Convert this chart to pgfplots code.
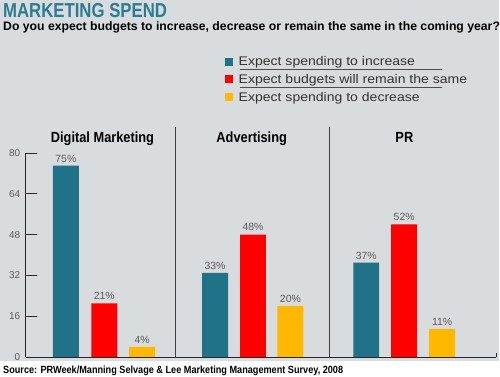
\documentclass[border=0pt]{standalone}
\usepackage{pgfplots}
\pgfplotsset{compat=1.18}
\usepackage{fontspec}
\setmainfont{Liberation Sans}
\newfontfamily\cond{Liberation Sans}[FakeStretch=0.83]
\newfontfamily\condb{Liberation Sans}[FakeStretch=0.87]
\newfontfamily\condc{Liberation Sans}[FakeStretch=0.875]
\newfontfamily\wide{Liberation Sans}[FakeStretch=1.12]
\definecolor{bg}{HTML}{D9DCDE}
\definecolor{teal}{HTML}{1F7288}
\definecolor{titleteal}{HTML}{2A7C92}
\definecolor{myred}{HTML}{FF0000}
\definecolor{myyellow}{HTML}{FFB800}
\definecolor{lbl}{HTML}{5A5A5A}
\begin{document}
\begin{tikzpicture}
\fill[bg] (0,0) rectangle (500bp,377bp);
\fill[white] (0,0) rectangle (500bp,15bp);
\node[anchor=base west,inner sep=0pt,text=titleteal] at (3bp,359.7bp) {\cond\fontsize{20.3}{20}\selectfont\bfseries MARKETING SPEND};
\node[anchor=base west,inner sep=0pt,text=black] at (3bp,346.5bp) {\fontsize{12.3}{13}\selectfont\bfseries Do you expect budgets to increase, decrease or remain the same in the coming year?};
\node[anchor=base west,inner sep=0pt,text=black] at (3bp,3bp) {\condc\fontsize{10.5}{11}\selectfont\bfseries Source: PRWeek/Manning Selvage \& Lee Marketing Management Survey, 2008};
\draw[black!70,line width=0.5pt] (240bp,307.2bp) -- (443bp,307.2bp);
\draw[black!70,line width=0.5pt] (240bp,289.5bp) -- (443bp,289.5bp);
\begin{axis}[
 anchor=origin, at={(25.7bp,19.3bp)},
 x=1bp, y=2.555bp,
 xmin=0, xmax=471.5, ymin=0, ymax=80,
 axis x line=bottom, axis y line=left,
 axis line style={-, black!85, line width=0.8pt},
 xtick=\empty, ytick={0,16,...,80},
 tick align=inside, major tick length=11bp,
 tick style={black!85, line width=0.6pt},
 /pgf/number format/assume math mode=true,
 yticklabel style={font=\fontsize{10}{10}\selectfont, text=lbl, xshift=-2bp},
 ybar, bar width=26,
 clip=false,
 nodes near coords={\pgfmathprintnumber{\pgfplotspointmeta}\%},
 nodes near coords style={font=\fontsize{10.5}{11}\selectfont, text=lbl},
 legend style={at={(axis cs:199.3,118.6)}, anchor=north west, draw=none, fill=none,
   font=\wide\fontsize{12.6}{12.6}\selectfont, text=black!80, row sep=4.3bp, column sep=4.5bp, inner sep=0pt,
   nodes={inner sep=1.5bp}},
 legend cell align=left,
 legend image code/.code={\fill[#1,draw=none] (0bp,-4bp) rectangle (8bp,4bp);},
]
\addplot[fill=teal, draw=none, bar shift=0pt] coordinates {(40.3,75) (189.8,33) (341.3,37)};
\addplot[fill=myred, draw=none, bar shift=0pt] coordinates {(78.8,21) (227.8,48) (379.3,52)};
\addplot[fill=myyellow, draw=none, bar shift=0pt] coordinates {(116.8,4) (265.3,20) (417.3,11)};
\legend{Expect spending to increase, Expect budgets will remain the same, Expect spending to decrease}
\draw[black!75, line width=0.8pt] (axis cs:150.3,0) -- (axis cs:150.3,90);
\draw[black!75, line width=0.8pt] (axis cs:304.3,0) -- (axis cs:304.3,90);
\draw[black!85, line width=0.8pt] (axis cs:471.5,0) -- (axis cs:471.5,1.6);
\node[font=\condb\fontsize{14.8}{15}\selectfont\bfseries, anchor=base] at (axis cs:77,84.2) {Digital Marketing};
\node[font=\condb\fontsize{14.8}{15}\selectfont\bfseries, anchor=base] at (axis cs:226.5,84.2) {Advertising};
\node[font=\condb\fontsize{14.8}{15}\selectfont\bfseries, anchor=base] at (axis cs:379.5,84.2) {PR};
\end{axis}
\end{tikzpicture}
\end{document}
